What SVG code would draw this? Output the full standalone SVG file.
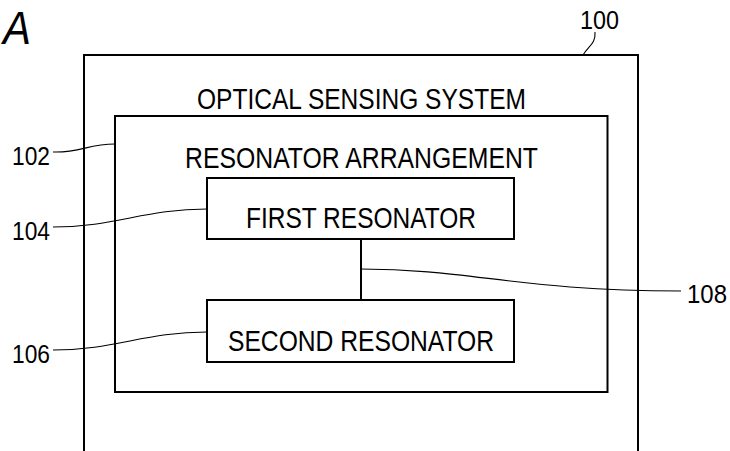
<svg xmlns="http://www.w3.org/2000/svg" width="730" height="451" viewBox="0 0 730 451">
<style>
.box{fill:none;stroke:#000;stroke-width:2}
.lead{fill:none;stroke:#000;stroke-width:1.1}
.t{font-family:"Liberation Sans",Arial,sans-serif;font-size:29px;fill:#000}
.n{font-family:"Liberation Sans",Arial,sans-serif;font-size:25px;fill:#000}
</style>
<rect width="730" height="451" fill="#fff"/>
<text x="3" y="44" font-family="Liberation Sans, Arial, sans-serif" font-size="47" font-style="italic" textLength="28" lengthAdjust="spacingAndGlyphs">A</text>
<g id="system">
<path class="box" d="M84,451 V55 H638 V451"/>
<text class="t" x="197" y="109" textLength="329" lengthAdjust="spacingAndGlyphs">OPTICAL SENSING SYSTEM</text>
</g>
<g id="arrangement">
<rect class="box" x="115" y="116" width="492.5" height="276"/>
<text class="t" x="185" y="168" textLength="353" lengthAdjust="spacingAndGlyphs">RESONATOR ARRANGEMENT</text>
</g>
<g id="first">
<rect class="box" x="207" y="178" width="307" height="61"/>
<text class="t" x="246" y="228" textLength="230" lengthAdjust="spacingAndGlyphs">FIRST RESONATOR</text>
</g>
<g id="second">
<rect class="box" x="207" y="300" width="307" height="62"/>
<text class="t" x="228" y="351" textLength="266" lengthAdjust="spacingAndGlyphs">SECOND RESONATOR</text>
</g>
<g id="connectors">
<line class="box" x1="361" y1="239" x2="361" y2="300"/>
<path class="lead" d="M583,55 C588,46 596,44 595,32"/>
<path class="lead" d="M53,152 C80,153 88,144 115,144"/>
<path class="lead" d="M53,227 C115,227 145,209 207,209"/>
<path class="lead" d="M53,350 C115,350 145,332 207,332"/>
<path class="lead" d="M361,269 C470,269 520,291 681,291"/>
</g>
<g id="labels">
<text class="n" x="580" y="29" textLength="39" lengthAdjust="spacingAndGlyphs">100</text>
<text class="n" x="12" y="165" textLength="38" lengthAdjust="spacingAndGlyphs">102</text>
<text class="n" x="12" y="240" textLength="38" lengthAdjust="spacingAndGlyphs">104</text>
<text class="n" x="12" y="363" textLength="38" lengthAdjust="spacingAndGlyphs">106</text>
<text class="n" x="687" y="303" textLength="40" lengthAdjust="spacingAndGlyphs">108</text>
</g>
</svg>
